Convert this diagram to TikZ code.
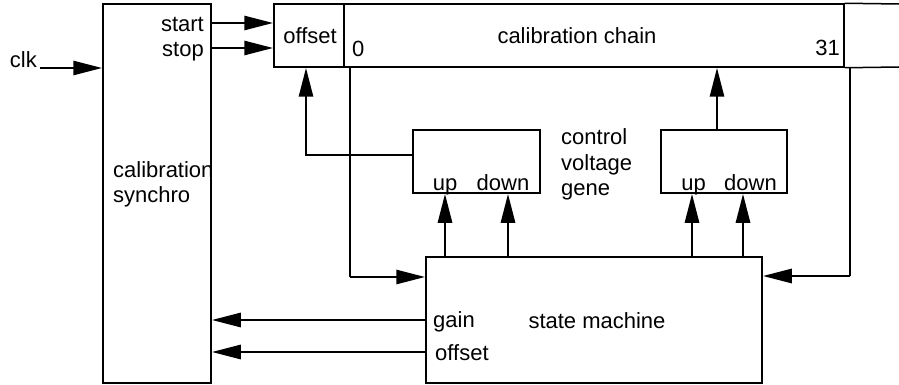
\documentclass[tikz,border=0pt]{standalone}
\usepackage{fontspec}
\setmainfont{Liberation Sans}
\usetikzlibrary{arrows.meta}
\begin{document}
\begin{tikzpicture}[x=1pt,y=-1pt,
 box/.style={draw, line width=1.5pt, inner sep=0pt},
 lbl/.style={inner sep=0pt, font=\fontsize{22}{26}\selectfont},
 wire/.style={line width=1.5pt},
 arr/.style={line width=2.8pt, -{Triangle[length=29pt,width=14pt]}}]
\useasboundingbox (0,0) rectangle (899,385);
% boxes
\node[box, minimum width=108pt, minimum height=379pt] (sync) at (157,193.5) {};
\node[box, minimum width=70pt, minimum height=63pt] (offc) at (309,35.5) {};
\node[box, minimum width=500pt, minimum height=63pt] (chain) at (594,35.5) {};
\node[box, minimum width=336pt, minimum height=126pt] (sm) at (594,320) {};
\node[box, minimum width=127pt, minimum height=63pt] (cg1) at (476.5,161.5) {};
\node[box, minimum width=126pt, minimum height=63pt] (cg2) at (724,161.5) {};
\coordinate (tailtop) at (899,4);
\coordinate (tailbot) at (899,67);
\draw[wire] (chain.north east) -- (tailtop);
\draw[wire] (chain.south east) -- (tailbot);
% texts
\node[lbl, anchor=base east] (clk) at (37,68) {clk};
\node[lbl, anchor=base east] (start) at (204,32) {start};
\node[lbl, anchor=base east] (stop) at (204,57) {stop};
\node[lbl, anchor=base] (offt) at (310,44) {offset};
\node[lbl, anchor=base west] (zero) at (352,57) {0};
\node[lbl, anchor=base east] (tone) at (840,56) {31};
\node[lbl, anchor=base] (chaint) at (577,44) {calibration chain};
\node[lbl, anchor=base west] (syn1) at (113,177) {calibration};
\node[lbl, anchor=base west] (syn2) at (113,202) {synchro};
\node[lbl, anchor=base west] (cv1) at (561,145) {control};
\node[lbl, anchor=base west] (cv2) at (561,170) {voltage};
\node[lbl, anchor=base west] (cv3) at (561,195) {gene};
\node[lbl, anchor=base] (up1) at (445,190) {up};
\node[lbl, anchor=base] (dn1) at (503,190) {down};
\node[lbl, anchor=base] (up2) at (693.5,190) {up};
\node[lbl, anchor=base] (dn2) at (750.5,190) {down};
\node[lbl, anchor=base west] (gaint) at (433,327) {gain};
\node[lbl, anchor=base west] (offsm) at (435,360) {offset};
\node[lbl, anchor=base] (smt) at (597,328) {state machine};
% connectors
\draw[arr] ([xshift=3pt]clk.base east) -- (clk.base east -| sync.west);
\draw[arr] (sync.east |- 0,23) -- (offc.west |- 0,23);
\draw[arr] (sync.east |- 0,48) -- (offc.west |- 0,48);
\coordinate (lcorner) at (350,277);
\coordinate (rcorner) at (850,276);
\draw[wire] (chain.south west -| lcorner) -- (lcorner);
\draw[arr] (lcorner) -- (lcorner -| sm.west);
\draw[wire] (chain.south east -| rcorner) -- (rcorner);
\draw[arr] (rcorner) -- (rcorner -| sm.east);
\coordinate (fb) at (306,155);
\draw[arr] (cg1.west |- fb) -- (fb) -- (fb |- offc.south);
\draw[arr] (cg2.north -| 717,0) -- (chain.south -| 717,0);
\foreach \xx in {445,508}
  \draw[arr] (sm.north -| \xx,0) -- (cg1.south -| \xx,0);
\foreach \xx in {692,743}
  \draw[arr] (sm.north -| \xx,0) -- (cg2.south -| \xx,0);
\draw[arr] (sm.west |- 0,320) -- (sync.east |- 0,320);
\draw[arr] (sm.west |- 0,352) -- (sync.east |- 0,352);
\end{tikzpicture}
\end{document}
